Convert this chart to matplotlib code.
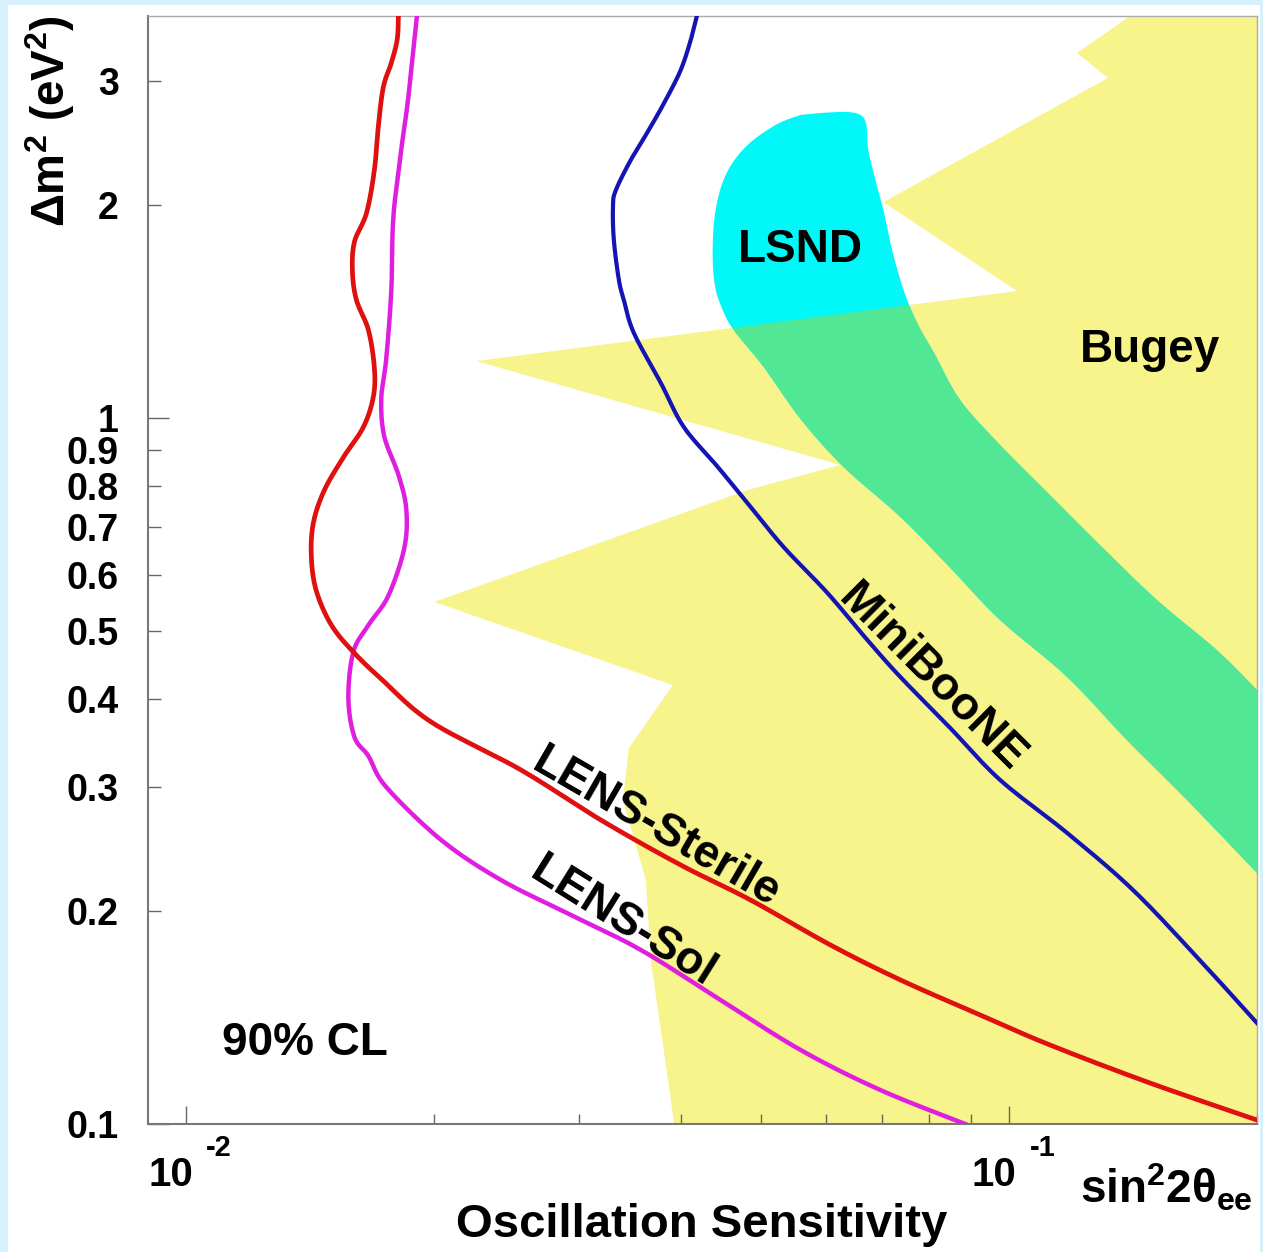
import numpy as np
import matplotlib.pyplot as plt
from matplotlib.patches import Rectangle
from matplotlib.ticker import NullFormatter

plt.rcParams['font.family'] = ['Liberation Sans', 'DejaVu Sans']
plt.rcParams['font.weight'] = 'bold'
plt.rcParams['mathtext.fontset'] = 'custom'
plt.rcParams['mathtext.rm'] = 'Liberation Sans:bold'
plt.rcParams['mathtext.it'] = 'Liberation Sans:bold'
plt.rcParams['mathtext.bf'] = 'Liberation Sans:bold'

# LENS-Sterile sensitivity (sin^2 2theta, dm^2)
sterile_x = [0.01813, 0.01807, 0.01777, 0.01738, 0.01714, 0.01695, 0.01658, 0.01603,
             0.01594, 0.01612, 0.01667, 0.01695, 0.01690, 0.01644, 0.01558, 0.01474,
             0.01429, 0.01421, 0.01441, 0.01503, 0.01598, 0.01728, 0.01987, 0.02555,
             0.03193, 0.03992, 0.04854, 0.06067, 0.07377, 0.09222, 0.1121, 0.1483, 0.2]
sterile_y = [3.75, 3.441, 3.183, 2.943, 2.592, 2.245, 1.951, 1.776,
             1.615, 1.469, 1.332, 1.177, 1.071, 0.9712, 0.8835, 0.7907,
             0.7100, 0.6357, 0.5688, 0.5089, 0.4662, 0.4269, 0.3710, 0.3172,
             0.2695, 0.2327, 0.2076, 0.1793, 0.1600, 0.1427, 0.1294, 0.1143, 0.1013]

# LENS-Sol sensitivity
sol_x = [0.01911, 0.01864, 0.01827, 0.01787, 0.01777, 0.01752, 0.01728, 0.01742,
         0.01813, 0.01853, 0.01843, 0.01762, 0.01667, 0.01598, 0.01576, 0.01603,
         0.01667, 0.01752, 0.02043, 0.02415, 0.02937, 0.03571, 0.04464, 0.05581,
         0.06978, 0.08845]
sol_y = [3.75, 2.849, 2.396, 1.920, 1.513, 1.212, 1.067, 0.9430,
         0.8306, 0.7433, 0.6545, 0.5596, 0.5089, 0.4662, 0.4012, 0.3533,
         0.3320, 0.3001, 0.2525, 0.2216, 0.1977, 0.1764, 0.1498, 0.1273,
         0.1117, 0.1000]

# MiniBooNE sensitivity
mb_x = [0.04186, 0.04105, 0.03992, 0.03828, 0.03651, 0.03472, 0.03330, 0.03303,
        0.03311, 0.03358, 0.03405, 0.03501, 0.03776, 0.04026, 0.04428, 0.04854,
        0.05322, 0.06017, 0.06727, 0.07377, 0.08482, 0.09752, 0.1176, 0.1414,
        0.1704, 0.2]
mb_y = [3.75, 3.430, 3.111, 2.821, 2.558, 2.320, 2.103, 1.997,
        1.787, 1.569, 1.469, 1.320, 1.121, 0.9712, 0.8524, 0.7482,
        0.6566, 0.5651, 0.4848, 0.4297, 0.3638, 0.3071, 0.2584, 0.2145,
        0.1707, 0.1390]

# Bugey excluded region (outline)
bugey_x = [0.2, 0.2, 0.0397, 0.03807, 0.03671, 0.03621, 0.03396, 0.03453, 0.03905,
           0.02004, 0.04813, 0.0624, 0.02253, 0.1022, 0.07036, 0.1318, 0.1209, 0.1421]
bugey_y = [3.75, 0.09, 0.09, 0.1273, 0.1707, 0.2216, 0.2877, 0.3408, 0.4185,
           0.5488, 0.7907, 0.8579, 1.204, 1.513, 2.022, 3.031, 3.289, 3.75]

# LSND allowed region: upper/right edge and lower/left edge
lsnd_up_x = [0.05901, 0.06327, 0.06598, 0.06709, 0.06746, 0.0688, 0.07036, 0.07234,
             0.0748, 0.07757, 0.08133, 0.08721, 0.09752, 0.1121, 0.1289, 0.1512,
             0.1787, 0.2]
lsnd_up_y = [2.704, 2.713, 2.687, 2.600, 2.396, 2.174, 1.970, 1.702,
             1.494, 1.354, 1.228, 1.060, 0.9157, 0.7778, 0.6609, 0.5523,
             0.4692, 0.4118]
lsnd_lo_x = [0.2, 0.1644, 0.139, 0.1176, 0.09752, 0.08482,
             0.07377, 0.06293, 0.05581, 0.05033, 0.0463, 0.04489, 0.04391, 0.04365,
             0.04401, 0.04527, 0.04786, 0.05204, 0.05581]
lsnd_lo_y = [0.2267, 0.2877, 0.3498, 0.4297, 0.5173, 0.6134,
             0.7241, 0.8524, 0.9967, 1.181, 1.332, 1.422, 1.543, 1.730,
             1.970, 2.209, 2.421, 2.600, 2.687]

ytick_vals = [0.2, 0.3, 0.4, 0.5, 0.6, 0.7, 0.8, 0.9, 2, 3]
ytick_labels = ['0.2', '0.3', '0.4', '0.5', '0.6', '0.7', '0.8', '0.9', '2', '3']


def smooth(xs, ys, n=12):
    # Catmull-Rom through the read points, in log space, only for drawing
    P = np.column_stack([np.log10(xs), np.log10(ys)])
    P = np.vstack([P[0], P, P[-1]])
    t = np.linspace(0, 1, n, endpoint=False)[:, None]
    out = []
    for i in range(1, len(P) - 2):
        p0, p1, p2, p3 = P[i - 1], P[i], P[i + 1], P[i + 2]
        out.append(0.5 * (2 * p1 + (p2 - p0) * t
                          + (2 * p0 - 5 * p1 + 4 * p2 - p3) * t ** 2
                          + (3 * p1 - p0 - 3 * p2 + p3) * t ** 3))
    out.append(P[-2][None])
    out = np.vstack(out)
    return 10 ** out[:, 0], 10 ** out[:, 1]


W, H = 1263, 1252
fig = plt.figure(figsize=(W / 100, H / 100), dpi=100, facecolor='#d6f1fb')
fig.add_artist(Rectangle((8 / W, 0), 1252 / W, 1 - 5 / H, transform=fig.transFigure,
                         facecolor='white', edgecolor='none', zorder=-5))

ax = fig.add_axes([148 / W, 1 - 1124 / H, 1109 / W, 1108 / H])
ax.set_xscale('log')
ax.set_yscale('log')

bugey = ax.fill(bugey_x, bugey_y, color='#f8f48c', lw=0, zorder=1)[0]
ux, uy = smooth(lsnd_up_x, lsnd_up_y, 8)
dx, dy = smooth(lsnd_lo_x, lsnd_lo_y, 8)
lx = np.concatenate([ux, dx])
ly = np.concatenate([uy, dy])
ax.fill(lx, ly, color='#00f8f8', lw=0, zorder=2)
green = ax.fill(lx, ly, color='#52e795', lw=0, zorder=3)[0]
green.set_clip_path(bugey)

ax.plot(*smooth(mb_x, mb_y), color='#1414b4', lw=3.0, zorder=5, solid_joinstyle='round')
ax.plot(*smooth(sol_x, sol_y), color='#e01ee0', lw=3.2, zorder=5, solid_joinstyle='round')
ax.plot(*smooth(sterile_x, sterile_y), color='#e01010', lw=3.4, zorder=6, solid_joinstyle='round')

ax.set_xlim(0.009, 0.2)
ax.set_ylim(0.1, 3.71)

# ticks
ax.set_xticks([0.01, 0.1])
ax.set_xticks([0.02, 0.03, 0.04, 0.05, 0.06, 0.07, 0.08, 0.09, 0.2], minor=True)
ax.xaxis.set_major_formatter(NullFormatter())
ax.xaxis.set_minor_formatter(NullFormatter())
ax.set_yticks([0.1, 1], ['0.1', '1'])
ax.set_yticks(ytick_vals, ytick_labels, minor=True)
ax.tick_params(axis='both', which='both', direction='in', color='#666666', width=1)
ax.tick_params(axis='x', which='major', length=13)
ax.tick_params(axis='x', which='minor', length=7)
ax.tick_params(axis='y', which='major', length=15, labelsize=27, pad=21)
ax.tick_params(axis='y', which='minor', length=9, labelsize=27, pad=21)
for lab in ax.get_yticklabels(which='both'):
    lab.set_fontweight('bold')

for s in ['left', 'bottom']:
    ax.spines[s].set_color('#777777')
    ax.spines[s].set_linewidth(1.5)
for s in ['top', 'right']:
    ax.spines[s].set_color('#aaaaaa')
    ax.spines[s].set_linewidth(1.0)

# x tick labels as 10^-2, 10^-1
for xv, ex in [(0.01, '-2'), (0.1, '-1')]:
    ax.annotate('10', xy=(xv, 0), xycoords=('data', 'axes fraction'),
                xytext=(-11, -37), textcoords='offset points',
                ha='center', va='center', fontsize=29, fontweight='bold')
    ax.annotate(ex, xy=(xv, 0), xycoords=('data', 'axes fraction'),
                xytext=(24, -17), textcoords='offset points',
                ha='center', va='center', fontsize=21, fontweight='bold')

# region / curve labels
big = 33
ax.text(0.05581, 1.73, 'LSND', fontsize=big, fontweight='bold', ha='center', va='center', zorder=8)
ax.text(0.1483, 1.248, 'Bugey', fontsize=big, fontweight='bold', ha='center', va='center', zorder=8)
ax.text(0.01394, 0.1302, '90% CL', fontsize=big, fontweight='bold', ha='center', va='center', zorder=8)
ax.text(0.08066, 0.4283, 'MiniBooNE', fontsize=big, fontweight='bold', ha='center', va='center',
        rotation=-45, rotation_mode='anchor', zorder=8)
ax.text(0.03723, 0.2626, 'LENS-Sterile', fontsize=big, fontweight='bold', ha='center', va='center',
        rotation=-30, rotation_mode='anchor', zorder=8)
ax.text(0.03396, 0.1932, 'LENS-Sol', fontsize=big, fontweight='bold', ha='center', va='center',
        rotation=-32, rotation_mode='anchor', zorder=8)

# axis titles
fig.text(702 / W, 1 - 1225 / H, 'Oscillation Sensitivity', fontsize=34, fontweight='bold',
         ha='center', va='center')
fig.text(1080 / W, 1 - 1188 / H, r'sin$^2$2$\theta_{ee}$', fontsize=big, fontweight='bold',
         ha='left', va='center')
fig.text(50 / W, 1 - 15 / H, r'$\Delta$m$^2$ (eV$^2$)', fontsize=big, fontweight='bold',
         rotation=90, ha='center', va='top')

fig.savefig('out.png', dpi=100, facecolor=fig.get_facecolor())
